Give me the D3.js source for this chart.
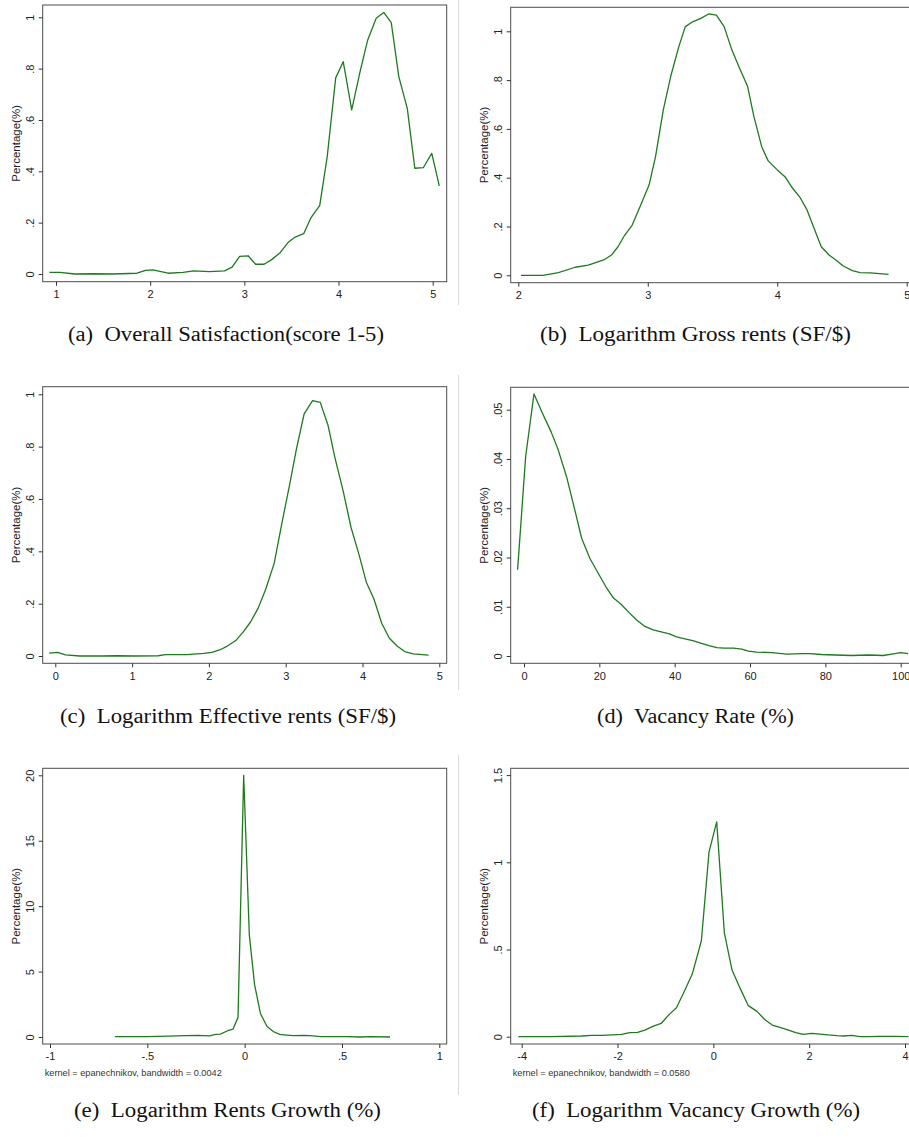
<!DOCTYPE html>
<meta charset="utf-8" />
<style>
  body { margin: 0; background: #fff; }
  svg { display: block; }
  .frame { fill: none; stroke: #4d4d4d; stroke-width: 1px; }
  .axis line { stroke: #333; }
  .axis text { font-family: 'Liberation Sans', Arial, sans-serif; font-size: 11px; fill: #222; }
  .density { fill: none; stroke: #1e7a1e; stroke-width: 1.3px; stroke-linejoin: round; }
  .ylab { font-family: 'Liberation Sans', Arial, sans-serif; font-size: 11.5px; fill: #222; }
  .note { font-family: 'Liberation Sans', Arial, sans-serif; font-size: 9.2px; fill: #333; }
  .caption { font-family: 'Liberation Serif', serif; font-size: 20px; fill: #111; }
  .sep { stroke: #dcdcdc; stroke-width: 1px; }
</style>
<body>
<script src="https://d3js.org/d3.v7.min.js"></script>
<script>
// (a) overall satisfaction
var satisfactionX = [0.93, 1.04, 1.2, 1.4, 1.6, 1.86, 1.95, 2.03, 2.19, 2.35, 2.46, 2.63, 2.79, 2.87, 2.95, 3.04, 3.12, 3.21, 3.29, 3.38, 3.47, 3.54, 3.63, 3.71, 3.8, 3.88, 3.97, 4.05, 4.14, 4.23, 4.31, 4.4, 4.48, 4.56, 4.64, 4.73, 4.81, 4.9, 4.99, 5.07];
var satisfactionY = [0.006, 0.006, 0.0, 0.001, 0.0, 0.003, 0.014, 0.016, 0.003, 0.006, 0.012, 0.009, 0.012, 0.027, 0.069, 0.071, 0.038, 0.038, 0.056, 0.083, 0.125, 0.144, 0.157, 0.221, 0.266, 0.457, 0.764, 0.827, 0.639, 0.79, 0.912, 0.996, 1.019, 0.979, 0.769, 0.645, 0.412, 0.414, 0.47, 0.343];

// (b) log gross rents
var grossX = [2.02, 2.19, 2.31, 2.44, 2.54, 2.66, 2.72, 2.77, 2.82, 2.88, 2.94, 3.01, 3.06, 3.12, 3.18, 3.24, 3.29, 3.35, 3.41, 3.47, 3.53, 3.59, 3.65, 3.71, 3.77, 3.82, 3.88, 3.93, 4.0, 4.06, 4.11, 4.18, 4.23, 4.28, 4.34, 4.4, 4.46, 4.51, 4.58, 4.64, 4.72, 4.86];
var grossY = [0.0, 0.0, 0.011, 0.033, 0.042, 0.063, 0.083, 0.117, 0.163, 0.206, 0.281, 0.37, 0.486, 0.678, 0.821, 0.937, 1.019, 1.04, 1.053, 1.071, 1.066, 1.019, 0.923, 0.848, 0.776, 0.65, 0.527, 0.469, 0.432, 0.404, 0.363, 0.316, 0.268, 0.199, 0.117, 0.083, 0.06, 0.038, 0.019, 0.011, 0.01, 0.004];

// (c) log effective rents
var effectiveX = [-0.08, 0.03, 0.13, 0.32, 0.6, 0.8, 1.02, 1.34, 1.43, 1.71, 1.93, 2.04, 2.14, 2.24, 2.35, 2.45, 2.54, 2.64, 2.74, 2.85, 2.95, 3.05, 3.14, 3.24, 3.35, 3.45, 3.55, 3.64, 3.75, 3.85, 3.95, 4.05, 4.15, 4.25, 4.35, 4.45, 4.55, 4.66, 4.86];
var effectiveY = [0.011, 0.014, 0.004, 0.0, 0.0, 0.001, 0.0, 0.001, 0.005, 0.005, 0.01, 0.014, 0.023, 0.038, 0.059, 0.093, 0.129, 0.182, 0.255, 0.354, 0.507, 0.653, 0.791, 0.925, 0.976, 0.969, 0.883, 0.759, 0.628, 0.492, 0.392, 0.282, 0.217, 0.125, 0.068, 0.038, 0.017, 0.008, 0.003];

// (d) vacancy rate
var vacancyX = [-1.7, 0.44, 2.65, 4.9, 7.2, 9.1, 11.3, 13.5, 15.3, 17.5, 19.7, 21.7, 23.7, 25.9, 27.9, 29.9, 32.1, 34.3, 36.4, 38.6, 40.5, 42.7, 44.8, 46.9, 49.1, 51.2, 53.2, 55.6, 57.8, 59.6, 61.8, 65.8, 69.7, 74.2, 75.9, 79.0, 82.6, 87.0, 91.4, 95.4, 97.6, 100, 102];
var vacancyY = [0.0175, 0.0405, 0.0532, 0.0493, 0.0455, 0.0418, 0.0364, 0.0296, 0.0239, 0.0198, 0.0168, 0.0141, 0.0118, 0.0104, 0.0088, 0.0073, 0.006, 0.0053, 0.0049, 0.0045, 0.0039, 0.0035, 0.0031, 0.0026, 0.0021, 0.0017, 0.0016, 0.0016, 0.0014, 0.001, 0.0008, 0.0007, 0.0004, 0.0005, 0.0005, 0.0003, 0.0002, 0.0001, 0.0002, 0.0001, 0.0004, 0.0007, 0.0005];

// (e) log rents growth
var rentsGrowthX = [-0.667, -0.5, -0.35, -0.3, -0.24, -0.18, -0.15, -0.125, -0.09, -0.06, -0.034, -0.005, 0.024, 0.051, 0.081, 0.115, 0.149, 0.18, 0.217, 0.25, 0.3, 0.337, 0.39, 0.456, 0.525, 0.593, 0.644, 0.747];
var rentsGrowthY = [0.03, 0.03, 0.08, 0.1, 0.13, 0.08, 0.2, 0.22, 0.46, 0.6, 1.5, 20.0, 7.8, 4.0, 1.8, 0.8, 0.4, 0.2, 0.15, 0.1, 0.13, 0.1, 0.03, 0.03, 0.03, 0.0, 0.03, 0.0];

// (f) log vacancy growth
var vacancyGrowthX = [-4.07, -3.66, -3.38, -2.75, -2.54, -2.33, -2.12, -1.92, -1.74, -1.58, -1.43, -1.25, -1.09, -0.92, -0.77, -0.61, -0.44, -0.25, -0.09, 0.07, 0.23, 0.39, 0.56, 0.73, 0.91, 1.07, 1.23, 1.39, 1.57, 1.72, 1.88, 2.05, 2.23, 2.4, 2.58, 2.72, 2.89, 3.06, 3.24, 3.45, 3.8, 4.07];
var vacancyGrowthY = [0.0, 0.0, 0.0, 0.004, 0.008, 0.008, 0.01, 0.013, 0.023, 0.025, 0.038, 0.061, 0.076, 0.128, 0.166, 0.258, 0.359, 0.55, 1.06, 1.232, 0.595, 0.382, 0.277, 0.178, 0.145, 0.099, 0.067, 0.054, 0.038, 0.023, 0.013, 0.019, 0.015, 0.01, 0.006, 0.004, 0.008, 0.0, 0.0, 0.002, 0.002, 0.0];

// tick values
var satisfactionXTicks = [1, 2, 3, 4, 5];
var rentsXTicks = [2, 3, 4, 5];
var effectiveXTicks = [0, 1, 2, 3, 4, 5];
var vacancyXTicks = [0, 20, 40, 60, 80, 100];
var rentsGrowthXTicks = [-1, -0.5, 0, 0.5, 1];
var vacancyGrowthXTicks = [-4, -2, 0, 2, 4];
var unitYTicks = [0, 0.2, 0.4, 0.6, 0.8, 1];
var vacancyYTicks = [0, 0.01, 0.02, 0.03, 0.04, 0.05];
var rentsGrowthYTicks = [0, 5, 10, 15, 20];
var vacancyGrowthYTicks = [0, 0.5, 1, 1.5];

var captions = [
  '(a)\u00A0\u00A0Overall Satisfaction(score 1-5)',
  '(b)\u00A0\u00A0Logarithm Gross rents (SF/$)',
  '(c)\u00A0\u00A0Logarithm Effective rents (SF/$)',
  '(d)\u00A0\u00A0Vacancy Rate (%)',
  '(e)\u00A0\u00A0Logarithm Rents Growth (%)',
  '(f)\u00A0\u00A0Logarithm Vacancy Growth (%)'
];
var notes = ['', '', '', '', 'kernel = epanechnikov, bandwidth = 0.0042', 'kernel = epanechnikov, bandwidth = 0.0580'];
var yTitle = 'Percentage(%)';

var W = 909, H = 1137;

// panel layout: frame box, pixel anchors for the scales, caption box
var panels = [
  { xs: satisfactionX, ys: satisfactionY, xt: satisfactionXTicks, yt: unitYTicks,
    f: [42.7, 5, 446.7, 281.7], xd: [1, 5], xr: [56, 432.7], yd: [0, 1], yr: [274, 17.3], cap: [68, 341, 316] },
  { xs: grossX, ys: grossY, xt: rentsXTicks, yt: unitYTicks,
    f: [510.7, 7.3, 916, 282.7], xd: [2, 5], xr: [518.3, 906.7], yd: [0, 1], yr: [275.3, 31.3], cap: [540, 341, 311] },
  { xs: effectiveX, ys: effectiveY, xt: effectiveXTicks, yt: unitYTicks,
    f: [42.7, 386.7, 446.7, 663.3], xd: [0, 5], xr: [55.3, 439.3], yd: [0, 1], yr: [656, 394.3], cap: [60, 723, 336] },
  { xs: vacancyX, ys: vacancyY, xt: vacancyXTicks, yt: vacancyYTicks,
    f: [510.7, 387.3, 916, 663.3], xd: [0, 100], xr: [524, 900.7], yd: [0, 0.05], yr: [656, 409.7], cap: [597, 723, 197] },
  { xs: rentsGrowthX, ys: rentsGrowthY, xt: rentsGrowthXTicks, yt: rentsGrowthYTicks,
    f: [42.7, 768.3, 446.7, 1044], xd: [-1, 1], xr: [50, 439.3], yd: [0, 20], yr: [1037, 775.3], cap: [74, 1117, 307] },
  { xs: vacancyGrowthX, ys: vacancyGrowthY, xt: vacancyGrowthXTicks, yt: vacancyGrowthYTicks,
    f: [510.7, 768.3, 916, 1044], xd: [-4, 4], xr: [521.7, 905], yd: [0, 1], yr: [1036.7, 862.3], cap: [532, 1117, 328] }
];

// stata style numbers: no leading zero
var fmt = function(d) {
  return String(+d.toFixed(4)).replace(/^0\./, '.').replace(/^-0\./, '-.');
};

var svg = d3.select('body').append('svg')
  .attr('width', W)
  .attr('height', H);

// thin grey separators between left and right columns
[[0, 305], [375, 690], [755, 1095]].forEach(function(s) {
  svg.append('line').attr('class', 'sep')
    .attr('x1', 458.5).attr('x2', 458.5)
    .attr('y1', s[0]).attr('y2', s[1]);
});

panels.forEach(function(p, i) {
  var x = d3.scaleLinear().domain(p.xd).range(p.xr);
  var y = d3.scaleLinear().domain(p.yd).range(p.yr);
  var g = svg.append('g');

  var data = p.xs.map(function(v, k) { return [v, p.ys[k]]; });
  var line = d3.line()
    .x(function(d) { return x(d[0]); })
    .y(function(d) { return y(d[1]); });

  g.append('path')
    .datum(data)
    .attr('class', 'density')
    .attr('d', line);

  g.append('rect')
    .attr('class', 'frame')
    .attr('x', p.f[0]).attr('y', p.f[1])
    .attr('width', p.f[2] - p.f[0])
    .attr('height', p.f[3] - p.f[1]);

  // x axis
  var xa = g.append('g')
    .attr('class', 'axis')
    .attr('transform', 'translate(0,' + p.f[3] + ')')
    .call(d3.axisBottom(x).tickValues(p.xt).tickFormat(fmt).tickSize(4).tickSizeOuter(0).tickPadding(4.5));
  xa.select('.domain').remove();

  // y axis, labels rotated like stata
  var ya = g.append('g')
    .attr('class', 'axis')
    .attr('transform', 'translate(' + p.f[0] + ',0)')
    .call(d3.axisLeft(y).tickValues(p.yt).tickFormat(fmt).tickSize(4).tickSizeOuter(0));
  ya.select('.domain').remove();
  ya.selectAll('text')
    .attr('x', null).attr('dy', null)
    .attr('text-anchor', 'middle')
    .attr('transform', 'translate(-9,0) rotate(-90)');

  g.append('text')
    .attr('class', 'ylab')
    .attr('text-anchor', 'middle')
    .attr('transform', 'translate(' + (p.f[0] - 23) + ',' + ((p.f[1] + p.f[3]) / 2) + ') rotate(-90)')
    .text(yTitle);

  if (notes[i]) {
    g.append('text')
      .attr('class', 'note')
      .attr('x', p.f[0] + 2)
      .attr('y', p.f[3] + 32)
      .text(notes[i]);
  }

  svg.append('text')
    .attr('class', 'caption')
    .attr('x', p.cap[0])
    .attr('y', p.cap[1])
    .attr('textLength', p.cap[2])
    .attr('lengthAdjust', 'spacingAndGlyphs')
    .text(captions[i]);
});
</script>
</body>
